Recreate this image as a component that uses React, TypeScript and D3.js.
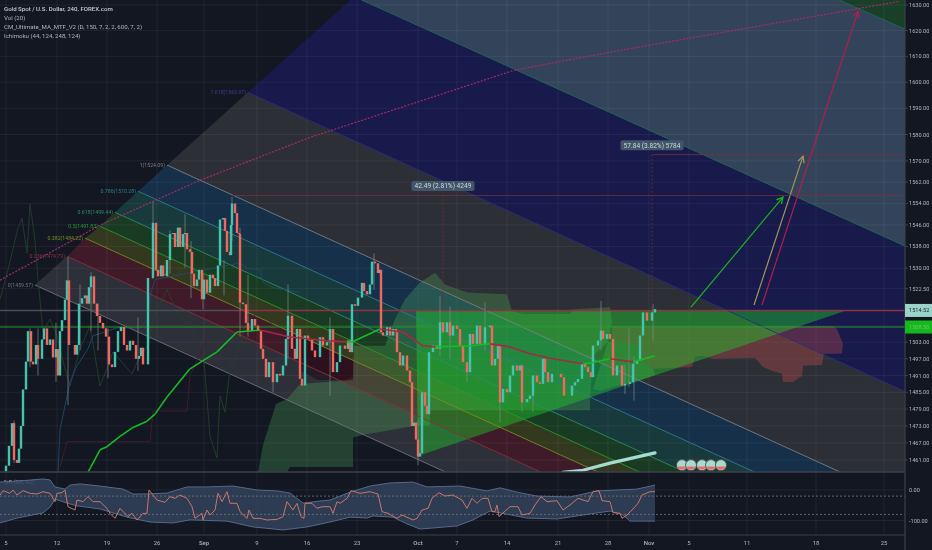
import * as d3 from "d3";

// candle closes (days = trading days since Aug 5)
const barDay = [
  0,0.3,0.6,0.8,1.1,1.3,1.5,1.7,2,2.2,2.5,2.7,3,3.2,3.6,3.8,4.1,4.4,4.7,5,5.2,5.4,5.6,5.9,6.1,6.3,6.6,6.9,7.1,7.3,7.6,7.9,8.1,8.3,8.5,8.8,9.1,9.4,9.7,10,10.3,10.6,10.9,11.2,11.5,11.8,12.1,12.4,12.7,13,13.3,13.5,13.7,14,
  14.2,14.7,15,15.2,15.5,15.7,16.1,16.4,16.7,16.9,17.2,17.4,17.7,17.9,18.1,18.4,18.6,18.8,19.1,19.3,19.6,19.8,20.1,20.4,20.7,20.9,21.2,21.4,21.7,21.9,22.1,22.4,22.5,22.6,22.9,23.1,23.3,23.4,23.7,24,24.2,24.6,24.9,25.2,25.5,25.7,26,26.3,26.7,27.1,27.4,27.7,28,28.2,28.6,28.9,29.1,29.4,29.6,
  29.9,30.2,30.6,30.9,31.4,31.7,32.1,32.4,32.7,33.1,33.4,33.9,34.2,34.4,34.6,34.9,35.2,35.6,35.8,36.1,36.4,36.6,36.9,37.2,37.4,37.5,37.7,38.1,38.4,38.7,39,39.1,39.4,39.7,40.1,40.4,40.6,40.8,41,41.2,41.4,41.6,41.9,42.1,42.3,42.7,43.1,43.4,43.7,44.1,44.4,44.7,45.1,45.4,45.7,46.1,
  46.4,46.7,47.1,47.4,47.9,48.4,48.6,48.9,49.2,49.4,49.7,50.1,50.4,50.7,51.1,51.4,51.6,52.1,52.4,52.7,53.1,53.4,53.7,53.9,54.2,54.6,54.9,55.2,55.5,55.8,56.2,56.6,56.9,57.2,57.6,57.9,58.2,58.5,58.7,59.2,59.5,59.7,60.1,60.4,60.7,61.1,61.4,61.6,61.9,62.4,62.7,63.1,63.4,63.7,64.1,64.4,64.6,64.9,
];
const barClose = [
  1459,1466,1474,1461,1460,1465,1473,1486,1496,1507,1496,1495,1502,1497,1504,1508,1502,1504,1497.5,1500.5,1491,1507,1511,1518.5,1525.5,1502,1502,1498.5,1502,1517,1519,1520,1517,1523,1527,1517,1512.5,1510,1508,1505,1495,1494,1499.5,1507,1508.5,1502,1500,1503.5,1502,1497,1498,1501,1495,1495,
  1526.4,1546.8,1529.4,1527,1531,1527,1533,1542.6,1543,1537.8,1545,1537.8,1542.6,1543,1537,1536,1528,1523.4,1525.8,1529.4,1518.6,1525.8,1521,1527.6,1526.4,1523.4,1531,1548,1548.6,1543.8,1536,1534.8,1546,1554,1550.4,1543,1542.6,1517.4,1516.8,1510,1507,1511.4,1509,1507,1500.6,1497,1490.4,1495.8,1488.6,1491.6,1491,1494.6,1504.2,1512.6,1500.6,1497,1507.8,1489.8,1487.4,
  1505.4,1504,1500,1497.6,1504.8,1501.8,1503,1507.8,1492.2,1495.8,1501.8,1500.6,1503.6,1499.4,1516.8,1516.2,1519.2,1524.6,1521.6,1520.4,1524,1532.4,1531.8,1528.2,1529.4,1506.6,1505.4,1508.4,1505.4,1507.8,1506.6,1499.4,1494.6,1498.2,1492.8,1488.6,1473,1474.2,1468.2,1462.2,1463.4,1485,1480.2,1477.2,1499.4,1501.8,1500.6,1510.2,1506.6,1510.2,1505.4,1509,1507.8,1501.8,1495.8,1492.2,
  1506,1502.4,1509,1502.4,1508.4,1509,1494.6,1497,1501.8,1481.4,1486.2,1485,1491,1494.6,1492.8,1494.6,1481.4,1482.6,1483.8,1491,1488.6,1488,1497,1492.2,1488.6,1491.6,1491.6,1491.6,1490.4,1483.8,1483.8,1487.4,1488.6,1489.8,1495.2,1494,1492.2,1490.4,1501.8,1503.6,1507.2,1504.2,1506,1504.2,1491,1494.6,1494.6,1487.4,1488,1488.6,1495.2,1496.4,1505.4,1513.8,1510.8,1510.8,1513.8,1515,
];
const wickDay = [0.8,2.4,3.2,5,6.2,7.4,8.5,9.2,10.2,13.2,14.7,16.4,17.9,18.5,19.7,21.8,22.6,23.4,24.2,26.7,28.2,32.4,36.8,41.2,43.4,44.4,46.1,47.9,49.4,51.6,52.7,59.5,61.9,62.3,62.8,64.7];
const wickHigh = [1475,1508,1508,1510,1534,1524,1528.5,1517,1508,1512,1554.6,1544,1550,1540,1528,1533,1556.4,1545,1527.6,1495,1524,1512,1535.5,1475,1519.7,1516,1495,1517.5,1486,1495,1491,1518,1495,1508,1498,1516.8];
const wickLow = [1460,1494,1491,1488.7,1480.4,1500,1507,1500,1490,1492.7,1526,1528,1530,1519,1515,1520,1540,1505,1505,1485,1497,1483.7,1522,1459.2,1498,1497,1488.7,1500,1474.3,1478,1478,1500,1484.4,1487,1482,1503.5];

// fib channel: start of each level on the left edge, and where it sits at day 90
const fibLevel = ["0","0.236","0.382","0.5","0.618","0.786","1","1.618","2.618","3.618"];
const fibPrice = ["1459.57","1474.79","1484.22","1491.83","1499.44","1510.28","1524.09","1563.97","",""];
const fibStartDay = [2.9,6.1,7.9,9.4,10.9,13.2,16.1,24.2,34.8,50.5];
const fibStartPrice = [1523.8,1534.4,1541.1,1545.5,1550.7,1558.6,1568.4,1596.1,1633.3,1690.1];
const fibEndPrice = [1385.1,1399.6,1408.4,1414.9,1421.9,1432.8,1446.3,1485.1,1538,1620.4];
const fibFill = ["#2e3039","#3f1b29","#33391f","#1a3b23","#183a3c","#16304a","#2c2f35","#171a4a","#33445a","#1a3f28"];
const fibStroke = ["#6f727c","#8c3040","#7a8a20","#2a9a2a","#2f8f5f","#2f7f8f","#7c7f88","#2a2f7f","#1f6a5a","#1f6a5a"];

// ichimoku cloud outlines
const kumoDay = [25.2,25.7,26.2,27,28.1,29.4,34.7,34.8,37.9,38.9,39.9,41.4,42.9,43.9,46.1,50.1,50.6,51.7,56.4,56.7,60.4,60.6,60.2,58.7,58.4,58.4,42.4,42.4,41.1,35.9,34.7,34.7,28.4,28.1];
const kumoPrice = [1456.7,1466.4,1471.8,1480.8,1482.6,1488,1489.4,1501.7,1501.7,1511.4,1518.6,1524.7,1528.3,1524,1521.1,1520.4,1514.3,1513.2,1513.2,1515,1515.7,1510.3,1503.1,1498.1,1482.6,1478.6,1478.6,1473.2,1473.2,1470,1468.9,1458.5,1458.5,1456.7];
const kumoTailDay = [60.2,63.1,63.4,64.7,64.9,63.4,59.4,58.7];
const kumoTailPrice = [1503.1,1502.4,1497,1493.4,1491.2,1489.4,1485.5,1486.2];
const kumoRedDay = [60.6,60.6,63.1,63.4,64.7,68.6,68.9,69.6,70.7,74.9,75.7,76.6,77.6,77.7,78.7,79.6,79.7,81.6,81.8,83.6,83.7,83.1,82.7];
const kumoRedPrice = [1508.9,1503.1,1502.4,1497,1493.4,1494.1,1497.7,1498.1,1497,1497.4,1494.1,1492.7,1491.6,1488.7,1488.7,1490.9,1494.5,1494.8,1498.8,1498.8,1502.4,1507.8,1508.9];
const kumoDarkDay = [28.4,34.7,34.7,33.9,31.2,29.4];
const kumoDarkPrice = [1506.7,1496.3,1490.5,1489.4,1489.4,1492.7];
const triangleDay = [41,84.1,41.2];
const trianglePrice = [1514.6,1514.6,1462.4];

const tenkanDay = [5.2,5.4,6.4,7.1,8.2,8.7,11.1,13.4,14.2,14.4,14.9,23.4,24.1,25.4,25.7,26.7,29.4];
const tenkanPrice = [1456.7,1471.8,1488.7,1494.5,1500.6,1505.3,1508.2,1508.2,1511.4,1519.7,1525.8,1531.9,1530,1529.4,1524.7,1522.9,1521.1];
const kijunDay = [5.4,6.1,14.4,14.7,18.1,18.4,20.1];
const kijunPrice = [1458.5,1467.5,1467.5,1478.3,1478.3,1490.9,1504.2];
const chikouDay = [-0.6,0.2,1.2,1.6,2.1,2.4,2.9,3.2,3.7,4.4,5.1,5.9,6.4,7.4,8.4,9.4,10.1,10.7,12.6,13.4,14.2,14.7,16.1,17.1,18.4,19.7,20.4,21.1,21.4,21.9,22.4,23.4,24.1,25.6,26.9];
const chikouPrice = [1518.6,1529.4,1544.9,1548.5,1535.5,1553.9,1540.2,1525.8,1506.7,1511.4,1505.3,1493.4,1487.3,1500.6,1508.9,1487.3,1493.4,1499.5,1491.6,1498.1,1501.7,1511.4,1522.2,1513.9,1508.9,1500.6,1469.3,1461.7,1483.7,1477.9,1493.4,1501.7,1511.4,1514.3,1507.8];

// CM ultimate MA, trend says which colour the segment ending at that point has
const maDay = [8.2,9.4,10.1,11.4,12.7,14.1,14.9,16.1,18.4,21.1,23.1,25.4,28.4,32.1,34.1,34.6,37.4,39.7,41.7,42.9,46.4,48.4,50.4,52.4,54.7,57.7,58.6,60.4,62.7,64.9];
const maPrice = [1456.7,1464.6,1465.7,1469.3,1472.5,1474.7,1477.2,1483.3,1493.4,1499.5,1506.7,1507.4,1504.9,1503.5,1503.1,1503.1,1507.8,1506.7,1501.7,1501.3,1501.7,1502.4,1501.3,1498.8,1497,1495.2,1495.6,1497,1495.9,1498.1];
const maTrend = [1,1,1,1,1,1,1,1,1,1,1,1,0,0,0,1,1,0,0,0,1,1,0,0,0,0,1,1,0,1];

const slowMaDay = [55.7,57.7,60.4,64.9];
const slowMaPrice = [1456.7,1457.4,1459.9,1463.5];
const eventDay = [67.6,68.5,69.6,70.5,71.5];
const eventPrice = 1459.2;

const trendDay = [-0.6,9.4,19.4,30.4,50.8,60.8,89.3];
const trendPrice = [1525.6,1545.9,1562.7,1578.9,1604.6,1611.9,1631.4];
const arrowStartDay = [68.5,74.8,75.6];
const arrowStartPrice = [1515.7,1516.5,1516.5];
const arrowEndDay = [77.7,79.7,85.2];
const arrowEndPrice = [1556.4,1571.8,1627.5];
const arrowColor = ["#16b81e","#a0955f","#b31d4e"];

const lastPrice = 1514.52;
const maLevel = 1508.5;
const measureDay = [43.7, 64.6];
const measureFrom = [22.6, 64.6];
const measureDelta = [42.49, 57.84];
const measureText = ["42.49 (2.81%) 4249", "57.84 (3.82%) 5784"];

const priceTicks = [1630,1620,1610,1600,1590,1580,1570,1562,1554,1546,1538,1530,1522.5,1503,1497,1491,1485,1479,1473,1467,1461];
const dayTicks = [0,5.1,10.1,15.1,19.8,25.1,30.1,35.1,41.2,45.1,50.1,55.2,60.2,64.3,68.3,74.1,81,87.8];
const dayLabels = ["5","12","19","26","Sep","9","16","23","Oct","7","14","21","28","Nov","5","11","18","25"];

const wprDay = [-0.6,-0.3,0.4,0.7,1.1,1.7,2.4,3.1,3.7,4.4,4.9,5.1,5.6,5.9,6.2,6.9,7.1,7.7,8.2,8.7,9.4,10.1,10.4,10.9,11.4,12.2,12.6,13.1,13.7,14.1,14.3,15.1,15.9,16.4,16.9,17.4,18.1,18.6,18.9,19.6,19.7,20.1,20.4,20.9,21.2,21.6,22.1,22.4,23.1,23.4,24.1,24.3,24.7,25.4,26.1,27.1,27.7,28.1,28.7,29.1,29.5,29.8,29.9,30.6,31.1,31.6,32.4,32.7,33.1,33.4,34.1,34.5,35.4,36.4,37.2,37.6,38.2,39.1,39.6,40.7,41.1,41.6,42.2,42.6,43.3,43.9,44.7,45.6,46.1,46.6,47.1,47.6,48.2,48.6,48.9,49.1,49.3,50.4,51.2,51.6,52.4,52.9,53.5,54.1,55.1,55.7,56.4,57.2,58.2,58.7,59.3,59.6,60.4,60.7,61.4,61.6,62.1,62.6,63.2,63.6,64.4,64.9];
const wprValue = [-16.4,-2.2,-10.9,0,-16.4,-2.2,-10.9,-13.1,-5.5,-10.9,-38.3,-10.9,-8.8,0,-54.7,-65.6,-32.8,-38.3,-21.9,-38.3,-38.3,-60.2,-76.5,-92.9,-60.2,-87.4,-76.5,-98.4,-76.5,-76.5,0,-32.8,-40.5,-21.9,-27.3,-16.4,-27.3,-54.7,-92.9,-76.5,-98.4,-65.6,-82,-65.6,-11,-38.3,-5.5,-43.7,-43.7,-71,-92.9,-65.6,-92.9,-92.9,-98.4,-96.2,-87.4,-38.3,-65.6,-43.7,-87.4,-92.9,-43.7,-43.7,-60.2,-54.7,-54.7,-76.5,-38.3,-43.7,-27.3,-2.2,-10.9,-5.5,-13.1,-71,-76.5,-92.9,-82,-98.4,-92.9,-65.6,-60.2,-27.3,-8.8,-19.7,-16.4,-32.8,-60.2,-27.3,-43.7,-27.3,-27.3,-71,-71,-49.2,-87.4,-54.7,-54.7,-82,-76.5,-49.2,-21.9,-38.3,-35,-65.6,-49.2,-27.3,-38.3,-5.5,-2.2,-35,-38.3,-74.3,-76.5,-92.9,-82,-65.6,-43.7,-16.4,-5.5,-5.5];
const bandUpperDay = [-0.6,1.4,3.7,4.4,4.9,5.9,6.4,7.4,9.4,11.7,12.7,14.1,16.1,18.1,20.1,22.7,25.1,27.1,28.4,29.7,31.4,32.4,34.4,36.4,38.4,40.7,42.1,45.4,48.1,49.4,51.1,53.1,56.4,59.1,61.1,63.1,64.9];
const bandUpper = [26,30,36,33,10,3,16,20,13,3,-13,-13,-10,10,10,13,0,-3,-10,-43,-36,-33,-7,13,23,26,10,13,-3,7,-7,-20,-23,-3,0,3,16];
const bandLowerDay = [-0.6,1.1,3.7,4.4,4.9,6.1,7.1,9.4,12.1,14.4,16.7,18.4,22.1,24.7,27.7,30.1,32.4,34.4,36.1,36.7,38.7,40.1,41.4,45.1,46.7,48.4,49.4,52.1,55.1,57.7,60.4,61.7,62.4,64.9];
const bandLower = [-108,-92,-75,-56,-30,-43,-52,-62,-89,-105,-108,-98,-102,-121,-131,-121,-105,-89,-92,-85,-89,-111,-128,-118,-98,-69,-75,-92,-95,-82,-69,-82,-102,-102];
const wprTicks = [0, -100];
const wprGuides = [-20, -80];

const W = 932;
const H = 550;
const plotW = 905;
const mainBottom = 472;
const panelBottom = 535;
const font = "Roboto, 'Noto Sans', sans-serif";

const x = d3.scaleLinear().domain([-0.6, 89.9]).range([0, plotW]);
const y = d3.scaleLog().domain([1461, 1630]).range([460, 5]);
const yR = d3.scaleLinear().domain([0, -100]).range([490, 520.5]);

const path = (days: number[], vals: number[], sy: (v: number) => number = y) =>
  d3.line<number>().x((d) => x(d)).y((_, i) => sy(vals[i]))(days) as string;

const UP = "#45c4ad";
const DOWN = "#f0685f";

export default function App() {
  // bands run from each level up to the next one
  const bands = fibLevel.slice(0, -1).map((_, i) => {
    const pts: [number, number][] = [
      [x(fibStartDay[i]), y(fibStartPrice[i])],
      [x(90), y(fibEndPrice[i])],
      [x(90), y(fibEndPrice[i + 1])],
      [x(fibStartDay[i + 1]), y(fibStartPrice[i + 1])],
    ];
    return "M" + pts.map((p) => p.join(",")).join("L") + "Z";
  });
  const lastLevel = fibLevel.length - 1;
  const topBand =
    `M${x(fibStartDay[lastLevel])},${y(fibStartPrice[lastLevel])}L${x(90)},${y(fibEndPrice[lastLevel])}L${x(90)},-300L${x(60)},-300Z`;

  return (
    <>
      <style>{"body{margin:0;background:#131722}"}</style>
      <svg width={W} height={H} style={{ display: "block", filter: "blur(0.35px)" }} fontFamily={font}>
        <defs>
          <clipPath id="main"><rect x={0} y={0} width={plotW} height={mainBottom} /></clipPath>
          {arrowColor.map((c, i) => (
            <marker key={i} id={`head${i}`} viewBox="0 0 8 8" refX={7} refY={4} markerWidth={7} markerHeight={7} orient="auto">
              <path d="M1,1L7,4L1,7" fill="none" stroke={c} strokeWidth={1.2} />
            </marker>
          ))}
        </defs>
        <rect width={W} height={H} fill="#131722" />

        <g clipPath="url(#main)">
          {bands.map((d, i) => <path key={i} d={d} fill={fibFill[i]} />)}
          <path d={topBand} fill={fibFill[lastLevel]} />
        </g>

        {/* grid */}
        <g stroke="#ffffff" strokeOpacity={0.055}>
          {priceTicks.map((t) => <line key={t} x1={0} x2={plotW} y1={y(t)} y2={y(t)} />)}
          <line x1={0} x2={plotW} y1={y(1509)} y2={y(1509)} />
          <line x1={0} x2={plotW} y1={y(1514.5)} y2={y(1514.5)} />
          {dayTicks.map((t) => <line key={t} x1={x(t)} x2={x(t)} y1={0} y2={panelBottom} />)}
          {wprTicks.map((t) => <line key={t} x1={0} x2={plotW} y1={yR(t)} y2={yR(t)} />)}
        </g>

        <g clipPath="url(#main)">
          {/* cloud */}
          <path d={path(kumoDay, kumoPrice) + "Z"} fill="#54b85c" fillOpacity={0.27} />
          <path d={path(kumoTailDay, kumoTailPrice) + "Z"} fill="#54b85c" fillOpacity={0.27} />
          <path d={path(kumoRedDay, kumoRedPrice) + "Z"} fill="#d2524f" fillOpacity={0.33} />
          <path d={path(kumoDarkDay, kumoDarkPrice) + "Z"} fill="#1a0512" fillOpacity={0.5} />
          <path d={path(triangleDay, trianglePrice) + "Z"} fill="#20d02a" fillOpacity={0.42} />

          {/* fib level lines */}
          {fibLevel.map((_, i) => (
            <line key={i} x1={x(fibStartDay[i])} y1={y(fibStartPrice[i])} x2={x(90)} y2={y(fibEndPrice[i])} stroke={fibStroke[i]} strokeWidth={0.9} />
          ))}

          {/* thin ichimoku lines */}
          <path d={path(chikouDay, chikouPrice)} fill="none" stroke="#24402c" strokeWidth={0.9} />
          <path d={path(tenkanDay, tenkanPrice)} fill="none" stroke="#1d4a6e" strokeWidth={0.9} />
          <path d={path(kijunDay, kijunPrice)} fill="none" stroke="#4a1a2c" strokeWidth={0.9} />

          {/* levels */}
          <line x1={0} x2={x(23)} y1={y(lastPrice)} y2={y(lastPrice)} stroke="#4a4e58" strokeWidth={1.4} />
          <line x1={x(23)} x2={plotW} y1={y(lastPrice)} y2={y(lastPrice)} stroke="#8c3344" strokeWidth={1.5} />
          <line x1={0} x2={plotW} y1={y(maLevel)} y2={y(maLevel)} stroke="#259b2a" strokeWidth={1.2} />

          {/* candles */}
          {wickDay.map((d, i) => (
            <line key={i} x1={x(d)} x2={x(d)} y1={y(wickHigh[i])} y2={y(wickLow[i])} stroke="#7d8a88" strokeOpacity={0.7} strokeWidth={1} />
          ))}
          {barDay.map((d, i) => {
            const open = i === 0 ? 1457 : barClose[i - 1];
            const close = barClose[i];
            return <line key={i} x1={x(d)} x2={x(d)} y1={y(open)} y2={y(close)} stroke={close >= open ? UP : DOWN} strokeWidth={2.4} />;
          })}

          {/* MA */}
          {maDay.slice(1).map((d, i) => (
            <line key={i} x1={x(maDay[i])} y1={y(maPrice[i])} x2={x(d)} y2={y(maPrice[i + 1])} stroke={maTrend[i + 1] ? "#17bb24" : "#a32a44"} strokeWidth={1.6} />
          ))}
          <path d={path(slowMaDay, slowMaPrice)} fill="none" stroke="#a4dcd2" strokeWidth={3.2} strokeLinecap="round" />

          {/* drawings */}
          <path d={path(trendDay, trendPrice)} fill="none" stroke="#a82b66" strokeWidth={1.2} strokeDasharray="2 1.5" />
          {arrowColor.map((c, i) => (
            <line key={i} x1={x(arrowStartDay[i])} y1={y(arrowStartPrice[i])} x2={x(arrowEndDay[i])} y2={y(arrowEndPrice[i])} stroke={c} strokeWidth={1.2} markerEnd={`url(#head${i})`} />
          ))}
          {measureDay.map((d, i) => (
            <g key={i} stroke="#7a2f42" strokeWidth={0.8}>
              <line x1={x(measureFrom[i])} x2={plotW} y1={y(lastPrice + measureDelta[i])} y2={y(lastPrice + measureDelta[i])} />
              <line x1={x(d)} x2={x(d)} y1={y(lastPrice + measureDelta[i])} y2={y(lastPrice)} strokeDasharray="2 2" />
            </g>
          ))}
          {eventDay.map((d) => (
            <g key={d} transform={`translate(${x(d)},${y(eventPrice)})`}>
              <circle r={5.5} fill="#a4dcd2" stroke="#5b4a45" strokeWidth={0.9} />
              <path d="M-4.4,1.5A4.7,4.7,0,0,0,4.4,1.5Z" fill="#ef6a62" />
            </g>
          ))}
        </g>

        {/* measure labels */}
        {measureDay.map((d, i) => {
          const cx = x(d);
          const cy = y(lastPrice + measureDelta[i]) - 9.5;
          return (
            <g key={i}>
              <rect x={cx - 31.5} y={cy - 5} width={63} height={10} rx={2} fill="#43546b" />
              <text x={cx} y={cy + 2.4} textAnchor="middle" fontSize={6.6} fill="#c3dcd5">{measureText[i]}</text>
            </g>
          );
        })}

        {/* fib labels */}
        {fibLevel.map((lv, i) =>
          fibPrice[i] ? (
            <text key={lv} x={x(fibStartDay[i]) - 2} y={y(fibStartPrice[i]) + 2} textAnchor="end" fontSize={5.2} fill={fibStroke[i] === "#2a2f7f" ? "#3a3f95" : fibStroke[i]}>
              {`${lv}(${fibPrice[i]})`}
            </text>
          ) : null
        )}

        {/* legend */}
        <g fontSize={6.1} fill="#b2b5be">
          <text x={4} y={11} fill="#c9ccd4" fontWeight={500}>Gold Spot / U.S. Dollar, 240, FOREX.com</text>
          <text x={4} y={20}>Vol (20)</text>
          <text x={4} y={29}>CM_Ultimate_MA_MTF_V2 (D, 150, 7, 2, 2, 600, 7, 2)</text>
          <text x={4} y={37.5}>Ichimoku (44, 124, 248, 124)</text>
          <text x={4} y={484}>%R (28, 42)</text>
        </g>

        {/* %R panel */}
        <path
          d={path(bandUpperDay, bandUpper, yR) + "L" + path(bandLowerDay.slice().reverse(), bandLower.slice().reverse(), yR).slice(1) + "Z"}
          fill="#33435a"
          fillOpacity={0.85}
        />
        <path d={path(bandUpperDay, bandUpper, yR)} fill="none" stroke="#56688a" strokeWidth={1} />
        <path d={path(bandLowerDay, bandLower, yR)} fill="none" stroke="#56688a" strokeWidth={1} />
        {wprGuides.map((g) => (
          <line key={g} x1={0} x2={plotW} y1={yR(g)} y2={yR(g)} stroke="#6a6e78" strokeWidth={0.9} strokeDasharray="2 2" />
        ))}
        <path d={path(wprDay, wprValue, yR)} fill="none" stroke="#c7766b" strokeWidth={1} />

        {/* frame */}
        <line x1={0} x2={plotW} y1={mainBottom} y2={mainBottom} stroke="#3c404b" strokeWidth={1.6} />
        <line x1={0} x2={plotW} y1={panelBottom} y2={panelBottom} stroke="#3c404b" strokeWidth={1} />
        <line x1={plotW} x2={plotW} y1={0} y2={H} stroke="#3c404b" strokeWidth={1.2} />

        {/* axes */}
        <g fontSize={5.6} fill="#b2b5be">
          {priceTicks.map((t) => (
            <g key={t}>
              <line x1={plotW} x2={plotW + 3} y1={y(t)} y2={y(t)} stroke="#3c404b" />
              <text x={909} y={y(t) + 2}>{t.toFixed(2)}</text>
            </g>
          ))}
          {wprTicks.map((t) => (
            <text key={t} x={909} y={yR(t) + 2}>{t.toFixed(2)}</text>
          ))}
          {dayTicks.map((t, i) => (
            <text key={t} x={x(t)} y={545} textAnchor="middle" fontSize={6} fontWeight={dayLabels[i].length > 2 ? 500 : 400}>{dayLabels[i]}</text>
          ))}
        </g>

        {/* last price tags */}
        <rect x={905} y={y(lastPrice) - 6.5} width={27} height={13} fill="#9ad3c9" />
        <text x={909} y={y(lastPrice) + 2} fontSize={5.6} fill="#1b2a30">{lastPrice.toFixed(2)}</text>
        <rect x={905} y={y(maLevel) - 6.5} width={27} height={13} fill="#17b81f" />
        <text x={909} y={y(maLevel) + 2} fontSize={5.6} fill="#5bd45e">{maLevel.toFixed(2)}</text>
      </svg>
    </>
  );
}
